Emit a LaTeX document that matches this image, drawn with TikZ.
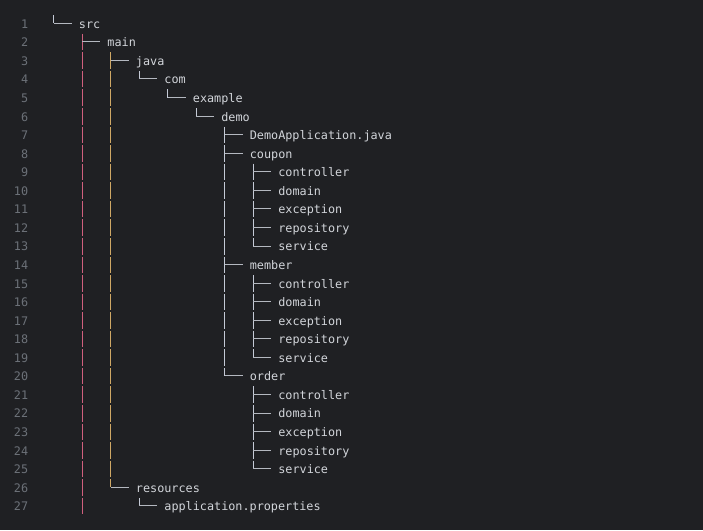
\documentclass[tikz,border=0pt]{standalone}
\usepackage{fontspec}
\setmonofont{DejaVu Sans Mono}

\definecolor{editorbg}{HTML}{1F2023}
\definecolor{filetext}{HTML}{D2D5DA}
\definecolor{linenum}{HTML}{6C7178}
\definecolor{twiggray}{HTML}{B4B8C0}
\definecolor{guidepink}{HTML}{D0607E}
\definecolor{guidetan}{HTML}{CFA865}
\definecolor{guidepale}{HTML}{C4CAD6}

% horizontal stroke of a tree branch, from the parent's guide to the child
\newcommand{\branchto}[2]{\draw[twig] ([xshift=3.56pt]#2.west -| #1.west) -- ([xshift=-7.1pt]#2.west);}
% vertical guide below a parent: colour, parent, where it stops
\newcommand{\guideline}[3]{\draw[guide,#1] ([xshift=3.56pt]#2.south west) -- ([xshift=3.56pt]#3 -| #2.west);}

\begin{document}
\begin{tikzpicture}[x=1pt,y=-1pt,
  entry/.style={anchor=west,inner sep=0pt,text height=14.18pt,text depth=4.38pt,
    font=\ttfamily\fontsize{11.8}{14}\selectfont,text=filetext},
  lineno/.style={entry,anchor=east,text=linenum},
  twig/.style={draw=twiggray,line width=1pt},
  guide/.style={line width=1pt,dash pattern=on 16.56pt off 2pt,dash phase=17.56pt}]
  \useasboundingbox (0,0) rectangle (703,530);
  \fill[editorbg] (0,0) rectangle (703,530);

  % line numbers
  \foreach \r in {1,...,27}
    \node[lineno] (n\r) at (28.4,{23.3+18.56*(\r-1)}) {\r};

  % entries: row / depth / name / text
  \foreach \r/\d/\nm/\txt in {1/0/src/src, 2/1/main/main, 3/2/java/java, 4/3/com/com,
      5/4/example/example, 6/5/demo/demo, 7/6/app/DemoApplication.java,
      8/6/coupon/coupon, 9/7/cctrl/controller, 10/7/cdom/domain, 11/7/cexc/exception,
      12/7/crepo/repository, 13/7/csvc/service,
      14/6/member/member, 15/7/mctrl/controller, 16/7/mdom/domain, 17/7/mexc/exception,
      18/7/mrepo/repository, 19/7/msvc/service,
      20/6/order/order, 21/7/octrl/controller, 22/7/odom/domain, 23/7/oexc/exception,
      24/7/orepo/repository, 25/7/osvc/service,
      26/2/resources/resources, 27/3/props/application.properties}
    \node[entry] (\nm) at ({50.3+28.48*(\d+1)},{23.3+18.56*(\r-1)}) {\txt};

  % root of the tree
  \coordinate (root) at (53.86,14.02);
  \draw[guide,guidepale] (root) -- (root |- src.west);
  \draw[twig] (root |- src.west) -- ([xshift=-7.1pt]src.west);

  % vertical guides
  \guideline{guidepink}{src}{props.south}
  \guideline{guidetan}{main}{resources.west}
  \guideline{guidepale}{java}{com.west}
  \guideline{guidepale}{com}{example.west}
  \guideline{guidepale}{example}{demo.west}
  \guideline{guidepale}{demo}{order.west}
  \guideline{guidepale}{coupon}{csvc.west}
  \guideline{guidepale}{member}{msvc.west}
  \guideline{guidepale}{order}{osvc.west}
  \guideline{guidepale}{resources}{props.west}

  % branches
  \branchto{src}{main}
  \branchto{main}{java}
  \branchto{main}{resources}
  \branchto{java}{com}
  \branchto{com}{example}
  \branchto{example}{demo}
  \branchto{demo}{app}
  \branchto{demo}{coupon}
  \branchto{demo}{member}
  \branchto{demo}{order}
  \foreach \k in {cctrl,cdom,cexc,crepo,csvc} {\branchto{coupon}{\k}}
  \foreach \k in {mctrl,mdom,mexc,mrepo,msvc} {\branchto{member}{\k}}
  \foreach \k in {octrl,odom,oexc,orepo,osvc} {\branchto{order}{\k}}
  \branchto{resources}{props}
\end{tikzpicture}
\end{document}
